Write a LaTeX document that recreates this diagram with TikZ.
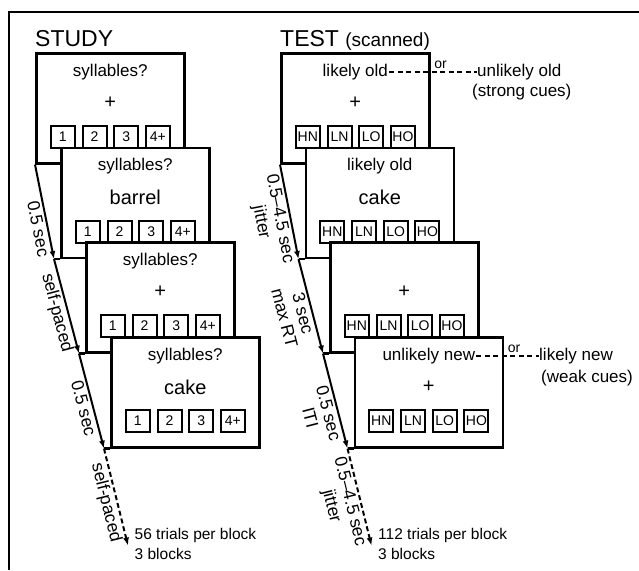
\documentclass[tikz,border=0pt]{standalone}
\usepackage{fontspec}
\setmainfont{Liberation Sans}
\usetikzlibrary{calc,arrows.meta,positioning}
\tikzset{
  screen/.style={draw, line width=2.6pt, fill=white, minimum width=148pt,
    minimum height=110pt, inner sep=0pt, anchor=north west},
  btn/.style={draw, line width=2pt, fill=white, minimum width=24pt,
    minimum height=22pt, inner sep=0pt, font=\fontsize{14}{14}\selectfont},
  ttl/.style={inner sep=1pt, font=\fontsize{17}{17}\selectfont},
  word/.style={inner sep=0pt, font=\fontsize{20}{20}\selectfont},
  timeArrow/.style={-{Latex[length=8pt,width=6pt]}, line width=2pt},
  timeLabel/.style={sloped, below, align=center, inner sep=2pt,
    font=\fontsize{17.5}{19}\selectfont},
  cue/.style={anchor=west, inner sep=0pt, font=\fontsize{17}{17}\selectfont},
  orText/.style={anchor=south west, inner sep=0pt, font=\fontsize{14}{14}\selectfont},
  endText/.style={anchor=north west, align=left, inner sep=0pt,
    font=\fontsize{15.5}{20}\selectfont},
}

\begin{document}
\begin{tikzpicture}[x=1pt,y=-1pt]
    \useasboundingbox (0,0) rectangle (639,570);
    \draw[line width=2.5pt] (9,570) -- (9,12) -- (639,12);
    \node[anchor=base west, inner sep=0pt, font=\fontsize{23}{23}\selectfont] (study) at (35,46.5) {STUDY};
    \node[anchor=base west, inner sep=0pt, font=\fontsize{23}{23}\selectfont] (test) at (280,46.5)
        {TEST {\fontsize{19}{19}\selectfont(scanned)}};
    % screens, drawn back to front
    \foreach \n/\x/\y/\q/\w/\bs in {
        s1/35/52/syllables?/+/{1,2,3,4+},
        s2/60/146.5/syllables?/barrel/{1,2,3,4+},
        s3/85/241/syllables?/+/{1,2,3,4+},
        s4/110/336/syllables?/cake/{1,2,3,4+},
        t1/280/52/likely old/+/{HN,LN,LO,HO},
        t2/304.5/146.5/likely old/cake/{HN,LN,LO,HO},
        t3/329/241//+/{HN,LN,LO,HO},
        t4/353.5/336/unlikely new/+/{HN,LN,LO,HO}} {
      \node[screen] (\n) at (\x,\y) {};
      \node[ttl] (\n-t) at ($(\n.north)+(0,20)$) {\q};
      \node[word] (\n-w) at ($(\n.north)+(0,51)$) {\w};
      \foreach \b [count=\i] in \bs
        \node[btn] (\n-b\i) at ($(\n.north)+(-79.2+31.7*\i,85)$) {\b};
    }
    % time line
    \foreach \p in {s,t} {
      \coordinate (\p1t) at ($(\p2.south west)+(-6,0)$);
      \coordinate (\p2t) at ($(\p3.south west)+(-6,0)$);
      \coordinate (\p3t) at ($(\p4.south west)+(-6,0)$);
      \coordinate (\p end) at ($(\p3t)+(24,97)$);
      \draw[line width=2.6pt] (\p1t) -- (\p2.south west);
      \draw[line width=2.6pt] (\p2t) -- (\p3.south west);
      \draw[line width=2.6pt] (\p3t) -- (\p4.south west);
    }
    \draw[timeArrow] (s1.south west) -- node[timeLabel, pos=.66] {0.5 sec} (s1t);
    \draw[timeArrow] (s1t) -- node[timeLabel, pos=.54] {self-paced} (s2t);
    \draw[timeArrow] (s2t) -- node[timeLabel, pos=.55] {0.5 sec} (s3t);
    \draw[timeArrow, dashed, dash pattern=on 5pt off 3pt] (s3t) -- node[timeLabel, pos=.53] {self-paced} (send);
    \draw[timeArrow] (t1.south west) -- node[timeLabel, pos=.55] {0.5--4.5 sec\\jitter} (t1t);
    \draw[timeArrow] (t1t) -- node[timeLabel, pos=.55] {3 sec\\max RT} (t2t);
    \draw[timeArrow] (t2t) -- node[timeLabel, pos=.6] {0.5 sec\\ITI} (t3t);
    \draw[timeArrow, dashed, dash pattern=on 5pt off 3pt] (t3t) -- node[timeLabel, pos=.52] {0.5--4.5 sec\\jitter} (tend);
    \node[endText] (sblocks) at ($(send)+(6.5,-17.5)$) {56 trials per block\\3 blocks};
    \node[endText] (tblocks) at ($(tend)+(6.5,-17.5)$) {112 trials per block\\3 blocks};
    % cue strength
    \node[cue] (ulo) at (477,0 |- t1-t.east) {unlikely old};
    \node[cue] (strong) at ($(ulo.west)+(-5,20)$) {(strong cues)};
    \draw[dashed, line width=1.7pt, dash pattern=on 5pt off 3.5pt] (t1-t.east) -- (ulo.west);
    \node[orText] (or1) at ($(t1.east |- t1-t.east)+(3.5,-3)$) {or};
    \node[cue] (lnw) at (539,0 |- t4-t.east) {likely new};
    \node[cue] (weak) at ($(lnw.west)+(2,22)$) {(weak cues)};
    \draw[dashed, line width=1.7pt, dash pattern=on 5pt off 3.5pt] (t4-t.east) -- (lnw.west);
    \node[orText] (or2) at ($(t4.east |- t4-t.east)+(3.5,-3)$) {or};
\end{tikzpicture}
\end{document}
